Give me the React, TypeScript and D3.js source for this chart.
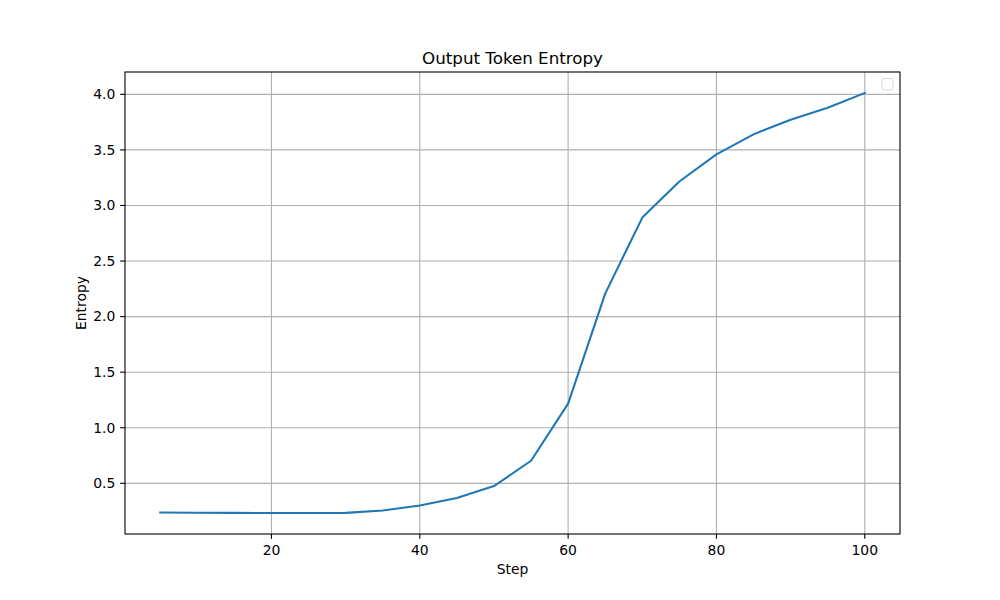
import React from "react";
import * as d3 from "d3";

const steps = [5, 10, 15, 20, 25, 30, 35, 40, 45, 50, 55, 60, 65, 70, 75, 80, 85, 90, 95, 100];
const entropy = [0.237, 0.235, 0.234, 0.233, 0.233, 0.234, 0.256, 0.301, 0.368, 0.475, 0.703, 1.217, 2.207, 2.891, 3.216, 3.46, 3.64, 3.772, 3.88, 4.012];
const xTicks = [20, 40, 60, 80, 100];
const yTicks = [0.5, 1.0, 1.5, 2.0, 2.5, 3.0, 3.5, 4.0];

const W = 1000, H = 600;
const L = 125, R = 900, T = 72, B = 534;
const FONT = "DejaVu Sans, sans-serif";

export default function App() {
  const xMin = d3.min(steps)!, xMax = d3.max(steps)!;
  const yMin = d3.min(entropy)!, yMax = d3.max(entropy)!;
  const xm = (xMax - xMin) * 0.05, ym = (yMax - yMin) * 0.05;
  const x = d3.scaleLinear().domain([xMin - xm, xMax + xm]).range([L, R]);
  const y = d3.scaleLinear().domain([yMin - ym, yMax + ym]).range([B, T]);
  const line = d3.line<number>().x((_, i) => x(steps[i])).y((d) => y(d));
  const tl = 4.86;
  return (
    <svg width={W} height={H} style={{ position: "absolute", left: 0, top: 0, background: "#fff" }} fontFamily={FONT}>
      <rect x={0} y={0} width={W} height={H} fill="#fff" />
      {xTicks.map((t) => (
        <line key={"gx" + t} x1={x(t)} x2={x(t)} y1={T} y2={B} stroke="#b0b0b0" strokeWidth={1.1} />
      ))}
      {yTicks.map((t) => (
        <line key={"gy" + t} x1={L} x2={R} y1={y(t)} y2={y(t)} stroke="#b0b0b0" strokeWidth={1.1} />
      ))}
      <path d={line(entropy) || ""} fill="none" stroke="#1f77b4" strokeWidth={2.08} strokeLinejoin="round" strokeLinecap="square" />
      <rect x={L} y={T} width={R - L} height={B - T} fill="none" stroke="#000" strokeWidth={1.1} />
      {xTicks.map((t) => (
        <g key={"tx" + t}>
          <line x1={x(t)} x2={x(t)} y1={B} y2={B + tl} stroke="#000" strokeWidth={1.1} />
          <text x={x(t)} y={B + 21} textAnchor="middle" fontSize={13.9} fill="#000">{t}</text>
        </g>
      ))}
      {yTicks.map((t) => (
        <g key={"ty" + t}>
          <line x1={L - tl} x2={L} y1={y(t)} y2={y(t)} stroke="#000" strokeWidth={1.1} />
          <text x={L - 9.7} y={y(t)} dy="0.35em" textAnchor="end" fontSize={13.9} fill="#000">{t.toFixed(1)}</text>
        </g>
      ))}
      <text x={(L + R) / 2} y={64} textAnchor="middle" fontSize={16.7} fill="#000">Output Token Entropy</text>
      <text x={(L + R) / 2} y={574} textAnchor="middle" fontSize={13.9} fill="#000">Step</text>
      <text transform={`translate(86, ${(T + B) / 2}) rotate(-90)`} textAnchor="middle" fontSize={13.9} fill="#000">Entropy</text>
      <rect x={882} y={78.5} width={11} height={11.5} rx={2} fill="#fff" fillOpacity={0.8} stroke="#d6d6d6" strokeWidth={1} />
    </svg>
  );
}
